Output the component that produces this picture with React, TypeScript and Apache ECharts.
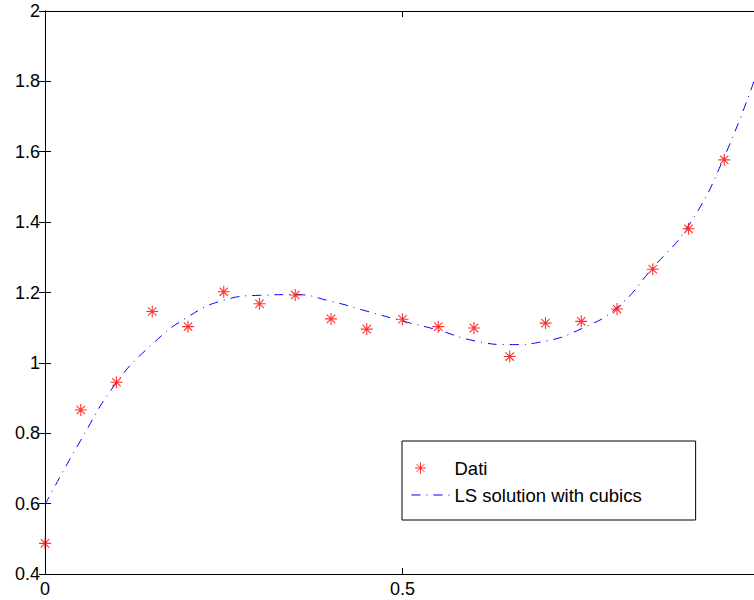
import React, { useEffect, useRef } from "react";
import * as echarts from "echarts";

const dataX = [0, 0.05, 0.1, 0.15, 0.2, 0.25, 0.3, 0.35, 0.4, 0.45, 0.5, 0.55, 0.6, 0.65, 0.7, 0.75, 0.8, 0.85, 0.9, 0.95];
const dataY = [0.487, 0.866, 0.945, 1.146, 1.103, 1.202, 1.168, 1.193, 1.125, 1.096, 1.124, 1.103, 1.099, 1.018, 1.113, 1.118, 1.153, 1.266, 1.381, 1.577];

const fitX = [0, 0.05, 0.1, 0.15, 0.2, 0.25, 0.3, 0.35, 0.4, 0.45, 0.5, 0.55, 0.6, 0.65, 0.7, 0.75, 0.8, 0.85, 0.9, 0.95, 1.0];
const fitY = [0.597, 0.78, 0.944, 1.053, 1.131, 1.178, 1.192, 1.194, 1.175, 1.147, 1.119, 1.093, 1.063, 1.052, 1.062, 1.097, 1.157, 1.27, 1.39, 1.585, 1.85];

const xTicks = { min: 0, max: 1, interval: 0.5 };
const yTicks = { min: 0.4, max: 2, interval: 0.2 };

const seriesNames = ["Dati", "LS solution with cubics"];

const STAR = "path://M0 6H12M6 0V12M1.8 1.8L10.2 10.2M10.2 1.8L1.8 10.2";
const LEGEND_STAR = "path://M3.5 7H14.5M9 1.5V12.5M5.1 3.1L12.9 10.9M12.9 3.1L5.1 10.9M0 0L0 0.01M38 14L38 14.01";
const LEGEND_LINE = "path://M0 7H38M0 0L0 0.01M38 14L38 14.01";
const FONT = "Liberation Sans, Arial, sans-serif";
const DASH = [9, 6, 1, 6];

export default function App() {
  const ref = useRef<HTMLDivElement>(null);
  useEffect(() => {
    if (!ref.current) return;
    const chart = echarts.init(ref.current, null, { renderer: "svg" });
    const axisCommon = {
      type: "value" as const,
      axisLine: { show: true, lineStyle: { color: "#000", width: 1 } },
      axisTick: { show: true, inside: true, length: 6, lineStyle: { color: "#000" } },
      splitLine: { show: false },
    };
    const label = { color: "#000", fontSize: 18, fontFamily: FONT };
    chart.setOption({
      animation: false,
      backgroundColor: "#fff",
      grid: { left: 45, right: 40, top: 11, bottom: 26, containLabel: false },
      xAxis: [
        { ...axisCommon, ...xTicks, position: "bottom", axisLabel: { ...label, margin: 6, showMaxLabel: false } },
        { ...axisCommon, ...xTicks, position: "top", axisLabel: { show: false } },
      ],
      yAxis: [
        { ...axisCommon, ...yTicks, position: "left", axisLabel: { ...label, margin: 5 } },
        { ...axisCommon, ...yTicks, position: "right", axisLabel: { show: false } },
      ],
      legend: {
        orient: "vertical",
        left: 402,
        top: 441,
        backgroundColor: "#fff",
        borderColor: "#000",
        borderWidth: 1,
        borderRadius: 0,
        padding: [17, 54, 15, 7],
        itemWidth: 38,
        itemHeight: 14,
        itemGap: 7,
        textStyle: { fontSize: 18.5, fontFamily: FONT, color: "#000", lineHeight: 20 },
        itemStyle: { borderWidth: 1 },
        data: [
          {
            name: seriesNames[0],
            icon: LEGEND_STAR,
            itemStyle: { color: "#ff0000", borderColor: "#ff0000", borderWidth: 1 },
          },
          {
            name: seriesNames[1],
            icon: LEGEND_LINE,
            itemStyle: { color: "none", borderColor: "#0000ff", borderWidth: 1, borderType: DASH },
          },
        ],
      },
      series: [
        {
          name: seriesNames[0],
          type: "scatter",
          data: dataX.map((x, i) => [x, dataY[i]]),
          symbol: STAR,
          symbolSize: 12,
          symbolKeepAspect: true,
          itemStyle: { color: "#ff0000", borderColor: "#ff0000", borderWidth: 1.1 },
          z: 3,
        },
        {
          name: seriesNames[1],
          type: "line",
          data: fitX.map((x, i) => [x, fitY[i]]),
          smooth: true,
          symbol: "none",
          showSymbol: false,
          lineStyle: { color: "#0000ff", width: 1, type: DASH },
          itemStyle: { color: "#0000ff" },
          z: 2,
        },
      ],
    });
    return () => chart.dispose();
  }, []);
  return (
    <div style={{ position: "fixed", left: 0, top: 0, width: 754, height: 600, overflow: "hidden", background: "#fff" }}>
      <div ref={ref} style={{ width: 800, height: 600 }} />
    </div>
  );
}
